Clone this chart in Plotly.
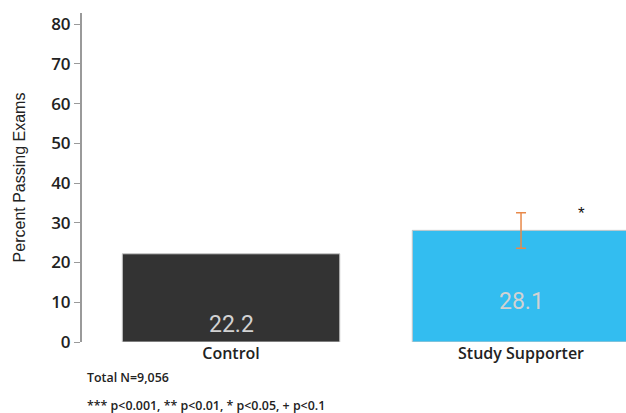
import plotly.graph_objects as go

# Exam pass rates by study group
groups = ["Control", "Study Supporter"]
pass_rate = [22.2, 28.1]
err_plus = [None, 4.4]
err_minus = [None, 4.5]
bar_colors = ["#333333", "#33bdf0"]
value_labels = ["22.2", "28.1"]
significance = ["", "*"]

y_ticks = [0, 10, 20, 30, 40, 50, 60, 70, 80]

TICK_FONT = "Open Sans, sans-serif"
NOTE_FONT = "Open Sans, sans-serif"

fig = go.Figure()

# One trace per group so only groups with an estimate get an error bar
for g, v, c, ep, em in zip(groups, pass_rate, bar_colors, err_plus, err_minus):
    err = None
    if ep is not None:
        err = dict(type="data", symmetric=False, array=[ep], arrayminus=[em],
                   color="#e8894a", thickness=1.5, width=5, visible=True)
    fig.add_trace(go.Bar(
        x=[g], y=[v],
        marker=dict(color=c, line=dict(color="#c8c8c8", width=1)),
        error_y=err,
        hoverinfo="skip",
    ))

annotations = []
for i, (g, v, lab) in enumerate(zip(groups, pass_rate, value_labels)):
    annotations.append(dict(
        x=i, y=v - 17.8, xref="x", yref="y", text=lab, showarrow=False,
        font=dict(family="Roboto, sans-serif", size=23, color="#d2d2d2"),
        yanchor="middle",
    ))
    if significance[i]:
        top = v + (err_plus[i] or 0)
        annotations.append(dict(
            x=i + 0.21, y=top - 0.2, xref="x", yref="y", text=significance[i],
            showarrow=False,
            font=dict(family="Liberation Sans, sans-serif", size=17, color="#111111"),
            yanchor="middle",
        ))

plot_left, plot_right, plot_top, plot_bottom = 82, 626, 13, 342
W, H = 626, 413


def paper_pos(px, py):
    return ((px - plot_left) / (plot_right - plot_left),
            (plot_bottom - py) / (plot_bottom - plot_top))


for text, py in [("Total N=9,056", 378),
                 ("*** p<0.001, ** p<0.01, * p<0.05, + p<0.1", 405)]:
    x, y = paper_pos(85, py)
    annotations.append(dict(
        x=x, y=y, xref="paper", yref="paper", text=text, showarrow=False,
        font=dict(family=NOTE_FONT, size=12.4, color="#222222", weight=600),
        xanchor="left", yanchor="middle",
    ))

fig.update_layout(
    width=W, height=H,
    margin=dict(l=plot_left, r=W - plot_right, t=plot_top, b=H - plot_bottom, pad=0),
    paper_bgcolor="white", plot_bgcolor="white",
    showlegend=False,
    barmode="overlay",
    bargap=0.25,
    annotations=annotations,
    font=dict(family=TICK_FONT, color="#222222"),
)

fig.update_xaxes(
    range=[-0.514, 1.362],
    showline=False, showgrid=False, zeroline=False, ticks="",
    tickfont=dict(family=TICK_FONT, size=16, color="#222222", weight=600),
)

fig.update_yaxes(
    range=[0, 82.8],
    tickvals=y_ticks,
    showline=True, linecolor="#9a9a9a", linewidth=2,
    ticks="outside", ticklen=6, tickcolor="#9a9a9a", tickwidth=1,
    showgrid=False, zeroline=False,
    tickfont=dict(family=TICK_FONT, size=17, color="#222222", weight=600),
    title=dict(text="Percent Passing Exams", standoff=22,
               font=dict(family="Liberation Sans, sans-serif", size=16, color="#222222")),
)

fig.write_html("out.html")
